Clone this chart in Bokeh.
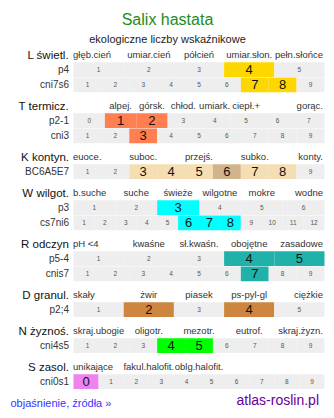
from bokeh.plotting import figure
from bokeh.models import Range1d, ColumnDataSource
from bokeh.core.properties import value
from bokeh.embed import file_html
from bokeh.resources import INLINE

# ---------------- data ----------------
TITLE = "Salix hastata"
SUBTITLE = "ekologiczne liczby wskaźnikowe"
FOOT_LEFT = "objaśnienie, źródła »"
FOOT_RIGHT = "atlas-roslin.pl"

section_names = ["L świetl.", "T termicz.", "K kontyn.", "W wilgot.",
                 "R odczyn", "D granul.", "N żyznoś.", "S zasol."]

header_labels = [
    ["głęb.cień", "umiar.cień", "półcień", "umiar.słon.", "pełn.słońce"],
    ["alpej.", "górsk.", "chłod.", "umiark.", "ciepł.+", "gorąc."],
    ["euoce.", "suboc.", "przejś.", "subko.", "konty."],
    ["b.suche", "suche", "świeże", "wilgotne", "mokre", "wodne"],
    ["pH <4", "kwaśne", "sł.kwaśn.", "obojętne", "zasadowe"],
    ["skały", "żwir", "piasek", "ps-pyl-gl", "ciężkie"],
    ["skraj.ubogie", "oligotr.", "mezotr.", "eutrof.", "skraj.żyzn."],
    ["unikające", "fakul.halofit.", "oblg.halofit."],
]
header_divisions = [5, 8, 9, 6, 5, 5, 5, 5]
header_index = [
    [0, 1, 2, 3, 4],
    [1, 2, 3, 4, 5, 7],
    [0, 2, 4, 6, 8],
    [0, 1, 2, 3, 4, 5],
    [0, 1, 2, 3, 4],
    [0, 1, 2, 3, 4],
    [0, 1, 2, 3, 4],
    [0, 1, 2],
]

row_labels = [["p4", "cni7s6"], ["p2-1", "cni3"], ["BC6A5E7"], ["p3", "cs7ni6"],
              ["p5-4", "cnis7"], ["p2;4"], ["cni4s5"], ["cni0s1"]]
row_first = [[1, 1], [0, 1], [1], [1, 1], [1, 1], [1], [1], [0]]
row_last = [[5, 9], [7, 9], [9], [6, 12], [5, 9], [5], [9], [9]]
row_values = [[[4], [7, 8]], [[1, 2], [3]], [[3, 4, 5, 7, 8]], [[3], [6, 7, 8]],
              [[4, 5], [7]], [[2, 4]], [[4, 5]], [[0]]]
row_values_dark = [[[], []], [[], []], [[6]], [[], []], [[], []], [[]], [[]], [[]]]

section_colors = ["#FFD700", "#FF7F50", "#F5DEB3", "#00FFFF",
                  "#20B2AA", "#CD853F", "#00FF00", "#EE82EE"]
section_dark = ["#FFD700", "#FF7F50", "#D2B48C", "#00FFFF",
                "#20B2AA", "#CD853F", "#00FF00", "#EE82EE"]

# ---------------- layout ----------------
W, H = 334, 418
GX0, GX1 = 73.0, 324.0
LABEL_X = 68.5
FIRST_HEADER_Y = 54.0
ROW_OFF, ROW_PITCH, ROW_H = 7.8, 15.3, 14.6
FONT = value("Liberation Sans")
GRAY = "#EEEEEE"

p = figure(width=W, height=H, output_backend="svg", toolbar_location=None,
           x_range=Range1d(0, W), y_range=Range1d(H, 0), min_border=0)
p.axis.visible = False
p.grid.visible = False
p.outline_line_color = None
p.background_fill_color = "white"
p.border_fill_color = "white"

cells = dict(left=[], right=[], top=[], bottom=[], color=[])
small = dict(x=[], y=[], t=[])
big = dict(x=[], y=[], t=[])
hdr_c = dict(x=[], y=[], t=[])
hdr_l = dict(x=[], y=[], t=[])
hdr_r = dict(x=[], y=[], t=[])
sec = dict(x=[], y=[], t=[])
rowl = dict(x=[], y=[], t=[])

y = FIRST_HEADER_Y
for s, name in enumerate(section_names):
    sec["x"].append(LABEL_X); sec["y"].append(y); sec["t"].append(name)
    n = header_divisions[s]
    dw = (GX1 - GX0) / n
    for lab, i in zip(header_labels[s], header_index[s]):
        if i == 0:
            hdr_l["x"].append(GX0 - 0.5); hdr_l["y"].append(y); hdr_l["t"].append(lab)
        elif i == n - 1:
            hdr_r["x"].append(GX1 - 1.5); hdr_r["y"].append(y); hdr_r["t"].append(lab)
        else:
            hdr_c["x"].append(GX0 + (i + 0.5) * dw); hdr_c["y"].append(y); hdr_c["t"].append(lab)
    for r, rl in enumerate(row_labels[s]):
        top = y + ROW_OFF + r * ROW_PITCH
        cy = top + ROW_H / 2
        rowl["x"].append(LABEL_X); rowl["y"].append(cy); rowl["t"].append(rl)
        a, b = row_first[s][r], row_last[s][r]
        nc = b - a + 1
        cw = (GX1 - GX0) / nc
        for k, v in enumerate(range(a, b + 1)):
            l = GX0 + k * cw
            col = GRAY
            if v in row_values[s][r]:
                col = section_colors[s]
            elif v in row_values_dark[s][r]:
                col = section_dark[s]
            cells["left"].append(l); cells["right"].append(l + cw)
            cells["top"].append(top); cells["bottom"].append(top + ROW_H)
            cells["color"].append(col)
            tgt = small if col == GRAY else big
            tgt["x"].append(l + cw / 2); tgt["y"].append(cy); tgt["t"].append(str(v))
    y += 21 + 15 * len(row_labels[s])

p.quad(left="left", right="right", top="top", bottom="bottom", fill_color="color",
       line_color=None, source=ColumnDataSource(cells))

def txt(d, size, color, align, baseline="middle"):
    p.text(x="x", y="y", text="t", source=ColumnDataSource(d), text_font=FONT,
           text_font_size=value(size), text_color=color, text_align=align,
           text_baseline=baseline)

txt(small, "6.5px", "#555555", "center")
txt(big, "13px", "#111111", "center")
txt(hdr_c, "9.5px", "#333333", "center")
txt(hdr_l, "9.5px", "#333333", "left")
txt(hdr_r, "9.5px", "#333333", "right")
txt(sec, "11.5px", "#111111", "right")
txt(rowl, "10px", "#333333", "right")

txt(dict(x=[W / 2], y=[19], t=[TITLE]), "16px", "#228B22", "center")
txt(dict(x=[W / 2], y=[38], t=[SUBTITLE]), "11px", "#222222", "center")
txt(dict(x=[10], y=[402], t=[FOOT_LEFT]), "11px", "#3333FF", "left")
txt(dict(x=[318.5], y=[399.5], t=[FOOT_RIGHT]), "14px", "#660099", "right")

open("out.html", "w").write(file_html(p, INLINE))
